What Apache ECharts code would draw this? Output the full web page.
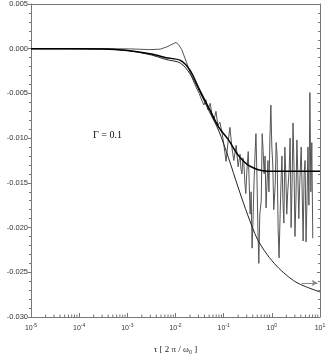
<!DOCTYPE html>
<html>
<head>
<meta charset="utf-8">
<script src="https://cdn.jsdelivr.net/npm/echarts@6/dist/echarts.min.js"></script>
<style>
  html, body { margin: 0; padding: 0; background: #fff; }
  #chart { width: 327px; height: 354px; }
</style>
</head>
<body>
<div id="chart"></div>
<script>
// x values are log10(tau), the axis shows them as powers of ten
const decades = [-5, -4, -3, -2, -1, 0, 1];

// smooth curve that levels off near -0.0137
const satX = [-5, -3.5, -3.0, -2.5, -2.2, -1.9, -1.7, -1.5, -1.3, -1.1, -0.9, -0.7, -0.5, -0.3, -0.1, 0.2, 0.5, 1.0];
const satY = [0, -0.00003, -0.0002, -0.0006, -0.0010, -0.0013, -0.0024, -0.0046, -0.0067, -0.0088, -0.0102, -0.0119, -0.0130, -0.0135, -0.0137, -0.0137, -0.0137, -0.0137];

// smooth curve that keeps falling towards -0.027
const lowX = [-5, -3.5, -3.0, -2.5, -2.2, -1.9, -1.7, -1.5, -1.3, -1.1, -0.9, -0.7, -0.5, -0.3, -0.1, 0.1, 0.3, 0.5, 0.7, 1.0];
const lowY = [0, -0.00003, -0.0002, -0.0007, -0.0012, -0.0016, -0.0028, -0.0048, -0.0070, -0.0092, -0.0122, -0.0155, -0.0186, -0.0213, -0.0230, -0.0243, -0.0253, -0.0261, -0.0266, -0.0272];

// noisy curve with the bump near 10^-2
const noisyX = [-5, -3.98, -3.36, -2.94, -2.53, -2.32, -2.18, -2.07, -1.99, -1.93, -1.87, -1.78, -1.70, -1.60, -1.51,
  -1.45, -1.41, -1.37, -1.33, -1.28, -1.24, -1.20, -1.16, -1.12, -1.08, -1.03, -0.99, -0.95, -0.91, -0.87,
  -0.83, -0.79, -0.74, -0.70, -0.66, -0.64, -0.62, -0.60, -0.58, -0.56, -0.54, -0.52, -0.49, -0.47,
  -0.45, -0.43, -0.41, -0.39, -0.37, -0.35, -0.33, -0.31, -0.29, -0.27, -0.25, -0.22, -0.20, -0.18,
  -0.16, -0.14, -0.12, -0.10, -0.08, -0.06, -0.04, -0.02, 0.00, 0.02, 0.04, 0.07, 0.09, 0.11,
  0.13, 0.15, 0.17, 0.19, 0.21, 0.23, 0.25, 0.27, 0.29, 0.31, 0.33, 0.36, 0.38, 0.40,
  0.42, 0.44, 0.46, 0.48, 0.50, 0.52, 0.54, 0.56, 0.58, 0.61, 0.63, 0.65, 0.67, 0.69,
  0.71, 0.73, 0.75, 0.77, 0.79, 0.81, 0.83, 0.85];
const noisyY = [0, 0, 0, -0.00002, -0.0001, -0.00005, 0.0002, 0.0005, 0.0007, 0.0004, -0.0001, -0.0014, -0.0026, -0.0040, -0.0050,
  -0.0058, -0.0063, -0.0057, -0.0068, -0.0061, -0.0074, -0.0079, -0.0070, -0.0086, -0.0082, -0.0095, -0.0110, -0.0126, -0.0105, -0.0088,
  -0.0110, -0.0125, -0.0108, -0.0132, -0.0118, -0.0135, -0.0140, -0.0122, -0.0128, -0.0150, -0.0162, -0.0138, -0.0115, -0.0150,
  -0.0185, -0.0160, -0.0223, -0.0190, -0.0150, -0.0120, -0.0095, -0.0140, -0.0200, -0.0240, -0.0185, -0.0170, -0.0095, -0.0115,
  -0.0140, -0.0120, -0.0178, -0.0150, -0.0125, -0.0160, -0.0100, -0.0063, -0.0110, -0.0130, -0.0180, -0.0152, -0.0105, -0.0120,
  -0.0200, -0.0234, -0.0190, -0.0150, -0.0120, -0.0170, -0.0195, -0.0110, -0.0140, -0.0185, -0.0160, -0.0135, -0.0100, -0.0200,
  -0.0150, -0.0083, -0.0130, -0.0210, -0.0170, -0.0102, -0.0140, -0.0190, -0.0150, -0.0110, -0.0160, -0.0215, -0.0140, -0.0125,
  -0.0216, -0.0170, -0.0110, -0.0175, -0.0049, -0.0160, -0.0105, -0.0212];

// arrow at the right edge marking the limit of the lower curve
const arrowX = [0.62, 0.95];
const arrowY = -0.0262;

const yMin = -0.030, yMax = 0.005, yStep = 0.005;

// log minor ticks between the decades
const minorTicks = [];
for (let d = -5; d < 1; d++) {
  for (let k = 2; k <= 9; k++) minorTicks.push([d + Math.log10(k), yMin]);
}

const zip = (xs, ys) => xs.map((x, i) => [x, ys[i]]);

const axisColor = '#777';
const labelFont = "'Liberation Sans Narrow', 'Liberation Sans', sans-serif";

const option = {
  animation: false,
  backgroundColor: '#fff',
  grid: { left: 31, right: 7, top: 4, bottom: 37, outerBoundsMode: 'none' },
  xAxis: [
    {
      type: 'value', min: decades[0], max: decades[decades.length - 1], interval: 1,
      name: 'τ [ 2 π / ω₀ ]', nameLocation: 'middle', nameGap: 28,
      nameTextStyle: { fontFamily: "'Liberation Serif', serif", fontSize: 9, color: '#222' },
      axisLine: { onZero: false, lineStyle: { color: axisColor, width: 1 } },
      axisTick: { inside: true, length: 4, lineStyle: { color: axisColor } },
      splitLine: { show: false },
      axisLabel: {
        margin: 6,
        formatter: v => '{b|10}{s|' + v + '}',
        rich: {
          b: { fontFamily: labelFont, fontSize: 7, color: '#333' },
          s: { fontFamily: labelFont, fontSize: 5, color: '#333', padding: [0, 0, 5, 0] }
        }
      }
    },
    {
      type: 'value', min: decades[0], max: decades[decades.length - 1], position: 'top',
      axisLine: { onZero: false, lineStyle: { color: axisColor, width: 1 } },
      axisTick: { show: false }, axisLabel: { show: false }, splitLine: { show: false }
    }
  ],
  yAxis: [
    {
      type: 'value', min: yMin, max: yMax, interval: yStep,
      name: 'E / T', nameLocation: 'middle', nameRotate: 90, nameGap: 22,
      nameTextStyle: { fontFamily: "'Liberation Sans', sans-serif", fontSize: 8, fontWeight: 'bold', color: '#222' },
      axisLine: { show: true, onZero: false, lineStyle: { color: axisColor, width: 1 } },
      axisTick: { show: true, length: 3, lineStyle: { color: axisColor } },
      minorTick: { show: true, splitNumber: 5, length: 2, lineStyle: { color: axisColor } },
      splitLine: { show: false },
      axisLabel: { margin: 3, fontFamily: labelFont, fontSize: 7.5, color: '#333', formatter: v => v.toFixed(3) }
    },
    {
      type: 'value', min: yMin, max: yMax, interval: yStep, position: 'right',
      axisLine: { show: true, onZero: false, lineStyle: { color: axisColor, width: 1 } },
      axisTick: { show: true, inside: true, length: 3, lineStyle: { color: axisColor } },
      minorTick: { show: true, splitNumber: 5, length: 2, lineStyle: { color: axisColor } },
      splitLine: { show: false },
      axisLabel: { show: false }
    }
  ],
  graphic: [
    {
      type: 'text', left: 93, top: 130,
      style: { text: 'Γ = 0.1', font: "10px 'Liberation Serif', serif", fill: '#111' }
    }
  ],
  series: [
    {
      type: 'custom', silent: true, clip: false,
      data: minorTicks, encode: { x: 0, y: 1 },
      renderItem: (params, api) => {
        const p = api.coord([api.value(0), api.value(1)]);
        return {
          type: 'line',
          shape: { x1: p[0], y1: p[1], x2: p[0], y2: p[1] - 2.5 },
          style: { stroke: axisColor, lineWidth: 1 }
        };
      }
    },
    {
      type: 'line', data: zip(noisyX, noisyY), showSymbol: false, symbol: 'none',
      lineStyle: { color: '#555', width: 1 }, silent: true
    },
    {
      type: 'line', data: zip(lowX, lowY), smooth: 0.3, showSymbol: false, symbol: 'none',
      lineStyle: { color: '#222', width: 1 }, silent: true,
      markLine: {
        silent: true, symbol: ['none', 'arrow'], symbolSize: [5, 6],
        label: { show: false },
        lineStyle: { color: '#888', width: 1, type: 'solid' },
        data: [[{ coord: [arrowX[0], arrowY] }, { coord: [arrowX[1], arrowY] }]]
      }
    },
    {
      type: 'line', data: zip(satX, satY), smooth: 0.3, showSymbol: false, symbol: 'none',
      lineStyle: { color: '#000', width: 1.5 }, silent: true
    }
  ]
};

const chart = echarts.init(document.getElementById('chart'));
chart.setOption(option);
</script>
</body>
</html>
